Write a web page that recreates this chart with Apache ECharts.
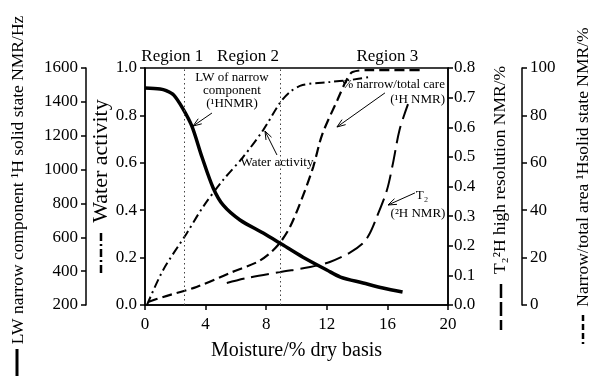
<!DOCTYPE html>
<html>
<head>
<meta charset="utf-8">
<script src="https://cdn.jsdelivr.net/npm/echarts@6/dist/echarts.min.js"></script>
<style>
  html, body { margin: 0; padding: 0; background: #fff; }
  #chart { width: 591px; height: 380px; }
</style>
</head>
<body>
<div id="chart"></div>
<script>
// ── Data ────────────────────────────────────────────────────────────────────
// LW of narrow component (Hz), solid thick line, outer left axis
var moistureLW = [0, 1.0, 1.4, 1.9, 2.5, 3.1, 3.76, 4.5, 5.15, 6.27, 7.8, 8.9, 10.4, 12.0, 12.9, 14.4, 15.7, 17.0];
var lwValues   = [1482, 1476, 1466, 1440, 1360, 1255, 1074, 891, 791, 702, 625, 566, 484, 407, 365, 330, 300, 277];

// Water activity, dash-dot, inner left axis
var moistureAw = [0.13, 1.2, 2.77, 3.83, 5.15, 6.47, 7.8, 8.9, 9.57, 10.4, 12.2, 13.5, 14.85];
var awValues   = [0.0, 0.148, 0.304, 0.414, 0.527, 0.624, 0.738, 0.852, 0.899, 0.928, 0.941, 0.949, 0.962];

// Narrow/total area (%), short dashes, outer right axis
var moistureNarrow = [0.2, 1.2, 3.4, 5.6, 7.4, 8.25, 8.9, 9.57, 10.4, 11.1, 11.7, 12.7, 13.3, 13.7, 14.85, 18.35];
var narrowValues   = [1.3, 3.4, 7.6, 13.5, 18.1, 21.9, 26.2, 32.9, 45.6, 58.2, 72, 86.5, 94.9, 98.3, 99.1, 99.1];

// T2 (2H NMR), long dashes, inner right axis
var moistureT2 = [5.4, 6.73, 8.9, 10.9, 12.2, 13.5, 14.4, 14.85, 15.3, 15.97, 16.37, 16.8, 17.36];
var t2Values   = [0.074, 0.091, 0.111, 0.128, 0.145, 0.176, 0.209, 0.243, 0.297, 0.388, 0.479, 0.591, 0.678];

// Region boundaries and labels
var regionBounds = [2.6, 8.9];
var regionNames  = ['Region 1', 'Region 2', 'Region 3'];
var regionX      = [1.8, 6.8, 16.0];

// Annotations (x = moisture, y = water-activity scale)
var noteTexts = ['LW of narrow\ncomponent\n(¹HNMR)', 'Water activity', '% narrow/total care', '(¹H NMR)', 'T₂', '(²H NMR)'];
var noteX     = [5.74, 8.71, 19.8, 19.8, 18.28, 18.02];
var noteY     = [0.903, 0.599, 0.928, 0.865, 0.46, 0.384];
var noteAlign = ['center', 'center', 'right', 'right', 'center', 'center'];

var arrowFrom = [[4.42, 0.810], [8.71, 0.633], [15.84, 0.895], [17.82, 0.473]];
var arrowTo   = [[3.17, 0.755], [7.92, 0.734], [12.67, 0.751], [16.04, 0.422]];

var FONT = '"Liberation Serif", "Times New Roman", serif';

function pairs(xs, ys) {
  return xs.map(function (x, i) { return [x, ys[i]]; });
}

function yAxisBase(opts) {
  return {
    type: 'value',
    min: opts.min, max: opts.max, interval: opts.interval,
    position: opts.position, offset: opts.offset,
    splitLine: { show: false },
    axisLine: { show: true, onZero: false, lineStyle: { color: '#000', width: 1.5 } },
    axisTick: { show: true, length: 5, lineStyle: { color: '#000', width: 1.5 } },
    axisLabel: {
      color: '#000', fontFamily: FONT, fontSize: 17, margin: opts.margin,
      formatter: opts.fmt || function (v) { return String(v); }
    }
  };
}

var chart = echarts.init(document.getElementById('chart'), null, { renderer: 'canvas' });

var option = {
  backgroundColor: '#fff',
  animation: false,
  grid: { left: 145, right: 143, top: 68, bottom: 75, show: true, borderColor: '#000', borderWidth: 1.5, backgroundColor: 'transparent' },
  xAxis: {
    type: 'value', min: 0, max: 20, interval: 4,
    name: 'Moisture/% dry basis', nameLocation: 'middle', nameGap: 36,
    nameTextStyle: { color: '#000', fontFamily: FONT, fontSize: 20 },
    splitLine: { show: false },
    axisLine: { lineStyle: { color: '#000', width: 1.5 } },
    axisTick: { length: 5, lineStyle: { color: '#000', width: 1.5 } },
    axisLabel: { color: '#000', fontFamily: FONT, fontSize: 17, margin: 11 }
  },
  yAxis: [
    yAxisBase({ min: 0, max: 1, interval: 0.2, position: 'left', offset: 0, margin: 8,
      fmt: function (v) { return v.toFixed(1); } }),
    yAxisBase({ min: 200, max: 1600, interval: 200, position: 'left', offset: 59, margin: 8 }),
    yAxisBase({ min: 0, max: 0.8, interval: 0.1, position: 'right', offset: 0, margin: 6,
      fmt: function (v) { return v.toFixed(1); } }),
    yAxisBase({ min: 0, max: 100, interval: 20, position: 'right', offset: 74, margin: 8 })
  ],
  series: [
    {
      name: 'LW', type: 'line', yAxisIndex: 1, data: pairs(moistureLW, lwValues),
      smooth: 0.3, symbol: 'none',
      lineStyle: { color: '#000', width: 3.5 },
      markLine: {
        silent: true, symbol: 'none', label: { show: false },
        lineStyle: { color: '#444', type: [1.5, 3], width: 1 },
        data: regionBounds.map(function (b) { return { xAxis: b }; })
      }
    },
    {
      name: 'Water activity', type: 'line', yAxisIndex: 0, data: pairs(moistureAw, awValues),
      smooth: 0.3, symbol: 'none',
      lineStyle: { color: '#000', width: 2, type: [9, 4, 2, 4] }
    },
    {
      name: 'Narrow/total', type: 'line', yAxisIndex: 3, data: pairs(moistureNarrow, narrowValues),
      smooth: 0.3, symbol: 'none',
      lineStyle: { color: '#000', width: 2.2, type: [10, 5] }
    },
    {
      name: 'T2', type: 'line', yAxisIndex: 2, data: pairs(moistureT2, t2Values),
      smooth: 0.3, symbol: 'none',
      lineStyle: { color: '#000', width: 2, type: [18, 7] }
    }
  ]
};

chart.setOption(option);

// ── Annotations, region labels, rotated axis titles ─────────────────────────
function px(x, y) {
  return chart.convertToPixel({ xAxisIndex: 0, yAxisIndex: 0 }, [x, y]);
}

function txt(x, y, s, size, align, rot) {
  return {
    type: 'text', x: x, y: y, rotation: rot || 0, silent: true,
    style: {
      text: s, fill: '#000', font: size + 'px ' + FONT,
      textAlign: align || 'center', textVerticalAlign: 'middle',
      align: align || 'center', verticalAlign: 'middle',
      lineHeight: Math.round(size * 0.97)
    }
  };
}

function seg(x1, y1, x2, y2, w, dash) {
  return {
    type: 'line', silent: true,
    shape: { x1: x1, y1: y1, x2: x2, y2: y2 },
    style: { stroke: '#000', lineWidth: w, lineDash: dash || null }
  };
}

var g = [];
var plotTop = px(0, 1)[1];

regionNames.forEach(function (n, i) {
  g.push(txt(px(regionX[i], 1)[0], plotTop - 11, n, 17, 'center'));
});

noteTexts.forEach(function (t, i) {
  var p = px(noteX[i], noteY[i]);
  g.push(txt(p[0], p[1], t, 13, noteAlign[i]));
});

arrowFrom.forEach(function (f, i) {
  var a = px(f[0], f[1]);
  var b = px(arrowTo[i][0], arrowTo[i][1]);
  g.push(seg(a[0], a[1], b[0], b[1], 1));
  var ang = Math.atan2(a[1] - b[1], a[0] - b[0]);
  var L = 9, s = 0.35;
  g.push({
    type: 'polyline', silent: true,
    shape: { points: [
      [b[0] + L * Math.cos(ang + s), b[1] + L * Math.sin(ang + s)],
      [b[0], b[1]],
      [b[0] + L * Math.cos(ang - s), b[1] + L * Math.sin(ang - s)]
    ] },
    style: { stroke: '#000', lineWidth: 1, fill: null }
  });
});

// rotated axis titles with their line-style keys
var R = Math.PI / 2;
g.push(txt(18, 180, 'LW narrow component ¹H solid state NMR/Hz', 17.5, 'center', R));
g.push(seg(17, 349, 17, 376, 3));
g.push(txt(101, 161, 'Water activity', 22, 'center', R));
g.push(seg(101, 233, 101, 273, 2.5, [8, 3, 2, 3]));
g.push(txt(500, 170, 'T₂²H high resolution NMR/%', 17.5, 'center', R));
g.push(seg(501, 284, 501, 330, 2.5, [14, 4]));
g.push(txt(583, 167, 'Narrow/total area ¹Hsolid state NMR/%', 17.5, 'center', R));
g.push(seg(583, 315, 583, 344, 2.5, [6, 3]));

chart.setOption({ graphic: g });

window.addEventListener('resize', function () { chart.resize(); });
</script>
</body>
</html>
